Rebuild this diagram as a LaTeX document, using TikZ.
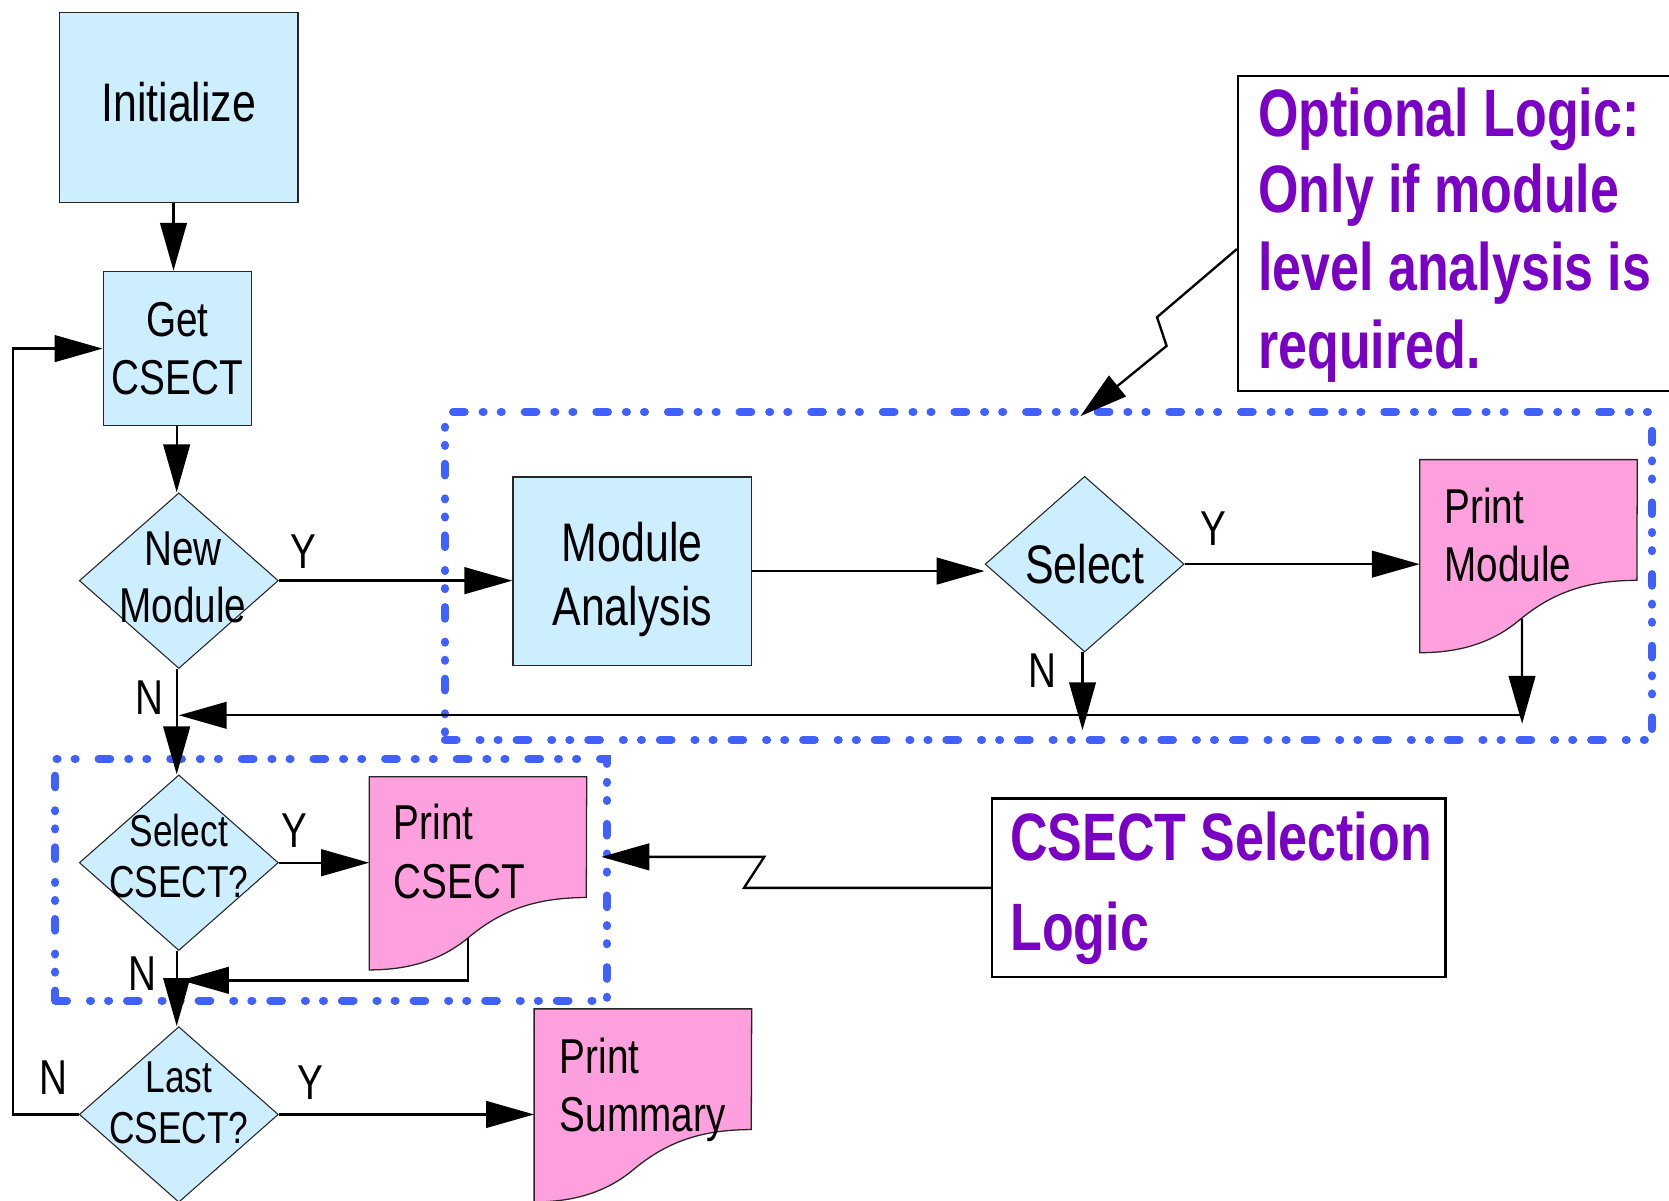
\documentclass[tikz,border=0pt]{standalone}
\usepackage{fontspec}
\setmainfont[FakeStretch=0.79]{Liberation Sans}
\newfontfamily\pfont[FakeStretch=0.775]{Liberation Sans Bold}
\usetikzlibrary{arrows.meta,calc,shapes.geometric}
\definecolor{boxblue}{RGB}{204,238,255}
\definecolor{docpink}{RGB}{255,160,222}
\definecolor{notepurple}{RGB}{122,0,198}
\definecolor{grpblue}{RGB}{64,96,255}
\tikzset{
 proc/.style={rectangle, draw=black!85, line width=1.3pt, fill=boxblue, inner sep=0pt},
 decis/.style={diamond, draw=black!85, line width=1pt, fill=boxblue, inner sep=0pt, minimum width=187pt, minimum height=165pt},
 docbox/.style={rectangle, draw=none, inner sep=0pt, minimum width=204pt, minimum height=181pt},
 lbl/.style={font=\fontsize{46}{54}\selectfont, inner sep=0pt, align=center},
 doclbl/.style={font=\fontsize{46}{55}\selectfont, inner sep=0pt, align=left, anchor=west},
 yn/.style={font=\fontsize{46}{54}\selectfont, inner sep=0pt},
 arr/.style={line width=2.2pt, -{Triangle[length=45pt,width=25pt]}},
 grp/.style={rectangle, draw=grpblue, line width=7.5pt, line cap=round, dash pattern=on 11pt off 21.5pt on 1pt off 16pt on 1pt off 16.8pt, inner sep=0pt},
 note/.style={rectangle, draw=black, line width=2.2pt, inner sep=0pt},
 notetext/.style={font=\pfont\fontsize{63}{73}\selectfont, text=notepurple, inner sep=0pt, anchor=base west},
}
\newcommand\docoutline[1]{%
 \filldraw[fill=docpink, draw=black!85, line width=1.2pt]
 (#1.north west) -- (#1.north east) -- ($(#1.south west)+(204pt,68pt)$)
 .. controls ($(#1.south west)+(153pt,68pt)$) and ($(#1.south west)+(122pt,54pt)$) .. ($(#1.south west)+(94pt,31pt)$)
 .. controls ($(#1.south west)+(67pt,8pt)$) and ($(#1.south west)+(35pt,0pt)$) .. (#1.south west) -- cycle;}
\begin{document}
\begin{tikzpicture}[x=1pt,y=-1pt]
\useasboundingbox (0,0) rectangle (1568,1128);
\fill[white] (0,0) rectangle (1568,1128);
\clip (0,0) rectangle (1568,1128);

% groups
\node[grp, minimum width=1134pt, minimum height=308pt] (g1) at (985,541) {};
\node[grp, minimum width=518pt, minimum height=227pt] (g2) at (311,826.5) {};

% process boxes
\node[proc, minimum width=224pt, minimum height=178pt, label={[lbl,font=\fontsize{51}{60}\selectfont,yshift=5pt]center:Initialize}] (init) at (168,101) {};
\node[proc, minimum width=139pt, minimum height=145pt, label={[lbl]center:{Get\\CSECT}}] (get) at (166.5,327.5) {};
\node[proc, minimum width=224pt, minimum height=177pt, label={[lbl,font=\fontsize{51}{60}\selectfont,yshift=-8pt]center:{Module\\Analysis}}] (ma) at (594,536.5) {};

% decisions
\node[decis, label={[lbl,xshift=4pt,yshift=3pt]center:{New\\Module}}] (nm) at (168,545.5) {};
\node[decis, label={[lbl,font=\fontsize{51}{58}\selectfont]center:Select}] (sel) at (1019,530) {};
\node[decis, label={[lbl,font=\fontsize{42}{48}\selectfont,yshift=6pt]center:{Select\\CSECT?}}] (scs) at (168,810.5) {};
\node[decis, label={[lbl,font=\fontsize{42}{48}\selectfont,yshift=11pt]center:{Last\\CSECT?}}] (lc) at (168,1047) {};

% documents
\node[docbox] (pm) at (1436,522.5) {};
\node[docbox] (pc) at (449,820.5) {};
\node[docbox] (ps) at (604,1038.5) {};
\docoutline{pm}
\docoutline{pc}
\docoutline{ps}
\node[doclbl] (pmT) at ($(pm.north west)+(23pt,-71pt)$) {Print\\Module};
\node[doclbl] (pcT) at ($(pc.north west)+(23pt,-70pt)$) {Print\\CSECT};
\node[doclbl] (psT) at ($(ps.north west)+(24pt,-76pt)$) {Print\\Summary};

% notes
\node[note, minimum width=450pt, minimum height=296pt, anchor=north west] (opt) at (1162,70) {};
\node[notetext] (optA) at (1182,128) {Optional Logic:};
\node[notetext] (optB) at (1182,200) {Only if module};
\node[notetext] (optC) at (1182,273) {level analysis is};
\node[notetext] (optD) at (1182,346) {required.};
\node[note, minimum width=426pt, minimum height=168pt, anchor=north west] (csl) at (931,749) {};
\node[notetext] (cslA) at (949,808) {CSECT Selection};
\node[notetext] (cslB) at (949,893) {Logic};

% coordinates
\coordinate (pmb) at ($(pm.south west)+(96pt,32pt)$);
\coordinate (pmE) at (1430,680);
\coordinate (selE) at (1017,686);
\coordinate (r1) at (1430,672);
\coordinate (r0) at (168,672);
\coordinate (pcb) at ($(pc.south west)+(93pt,30pt)$);
\coordinate (r2) at (170,921);
\coordinate (loopL) at (12,1047);
\coordinate (c1a) at (1087,298);
\coordinate (c1b) at (1096,325);
\coordinate (c1t) at (1015,391);
\coordinate (c2a) at (718,805);
\coordinate (c2t) at (565,805);

% connectors
\draw[arr] (init.south -| 163,0) -- (get.north -| 163,0);
\draw[arr] (get.south -| 166,0) -- (nm.north -| 166,0);
\draw[arr] (nm.east) -- (nm.east -| ma.west);
\draw[arr] (ma.east) -- (ma.east -| sel.west);
\draw[arr] (sel.east) -- (sel.east -| pm.west);
\draw[arr] (sel.south -| 1017,0) -- (selE);
\draw[arr] (pmb) -- (pmE);
\draw[arr] (r1) -- (r0);
\draw[arr] (nm.south -| 166,0) -- (scs.north -| 166,0);
\draw[arr] (scs.east) -- (scs.east -| pc.west);
\draw[arr] (pcb) |- (r2);
\draw[arr] (scs.south -| 166,0) -- (lc.north -| 166,0);
\draw[arr] (lc.east) -- (lc.east -| ps.west);
\draw[arr] (lc.west) -- (loopL) |- (get.west);
\draw[arr] (opt.west |- 0,234) -- (c1a) -- (c1b) -- (c1t);
\draw[arr] (csl.west) -- (csl.west -| 699,0) -- (c2a) -- (c2t);

% Y/N labels
\node[yn] (y1) at (285,518) {Y};
\node[yn] (n1) at (140,655) {N};
\node[yn] (y2) at (1140,497) {Y};
\node[yn] (n2) at (979,630) {N};
\node[yn] (y3) at (277,780) {Y};
\node[yn] (n3) at (134,915) {N};
\node[yn] (y4) at (292,1017) {Y};
\node[yn] (n4) at (50,1012) {N};
\end{tikzpicture}
\end{document}
